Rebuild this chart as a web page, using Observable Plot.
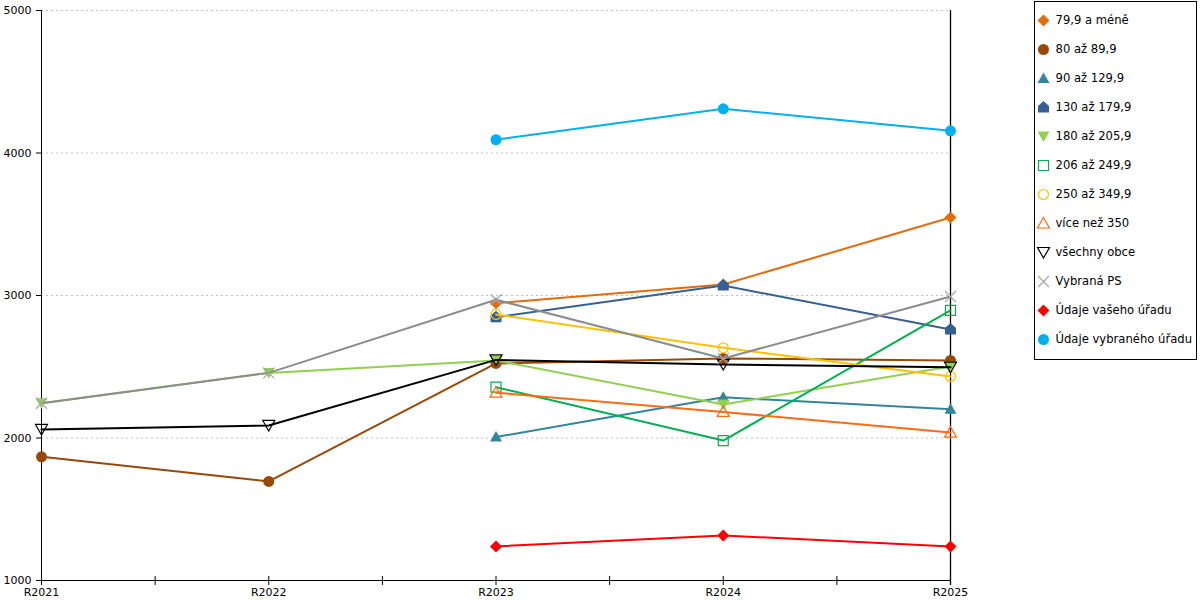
<!DOCTYPE html>
<html><head><meta charset="utf-8">
<script src="https://cdn.jsdelivr.net/npm/d3@7"></script>
<script src="https://cdn.jsdelivr.net/npm/@observablehq/plot@0.6"></script>
<style>
body{margin:0;background:#fff;font-family:"DejaVu Sans",Verdana,sans-serif;}
#wrap{position:relative;width:1200px;height:600px;overflow:hidden;}
#legend{position:absolute;left:1034px;top:1px;width:163px;height:359px;border:1px solid #000;box-sizing:border-box;background:#fff;}
#legend svg,#chart svg{display:block;}
svg text{font-family:"DejaVu Sans",Verdana,sans-serif;}
</style></head><body>
<div id="wrap"><div id="chart"></div><div id="legend"></div></div>
<script>
// ---- data ----
const years = ["R2021", "R2022", "R2023", "R2024", "R2025"];
const seriesNames = ["79,9 a méně", "80 až 89,9", "90 až 129,9", "130 až 179,9", "180 až 205,9",
  "206 až 249,9", "250 až 349,9", "více než 350", "všechny obce", "Vybraná PS",
  "Údaje vašeho úřadu", "Údaje vybraného úřadu"];
const v79   = [null, null, 2946, 3077, 3547];
const v80   = [1868, 1695, 2523, 2558, 2544];
const v90   = [null, null, 2007, 2286, 2202];
const v130  = [null, null, 2848, 3070, 2761];
const v180  = [2244, 2457, 2544, 2235, 2502];
const v206  = [null, null, 2357, 1982, 2895];
const v250  = [null, null, 2867, 2633, 2432];
const v350  = [null, null, 2318, 2183, 2038];
const vAll  = [2060, 2088, 2548, 2516, 2497];
const vPS   = [2244, 2457, 2970, 2558, 2993];
const vYour = [null, null, 1239, 1316, 1239];
const vSel  = [null, null, 4093, 4310, 4156];
const yTicks = [1000, 2000, 3000, 4000, 5000];

const seriesValues = [v79, v80, v90, v130, v180, v206, v250, v350, vAll, vPS, vYour, vSel];
const rows = seriesNames.flatMap((s, k) =>
  seriesValues[k].map((v, i) => ({series: s, i, value: v})).filter(d => d.value != null));

// ---- styles ----
const sym = pts => ({draw(ctx) {
  ctx.moveTo(pts[0][0], pts[0][1]);
  for (const p of pts.slice(1)) ctx.lineTo(p[0], p[1]);
  ctx.closePath();
}});
const diamond = sym([[0, -6], [6, 0], [0, 6], [-6, 0]]);
const triUp = sym([[0, -6], [6, 4.5], [-6, 4.5]]);
const triDown = sym([[0, 5.5], [6, -5], [-6, -5]]);
const house = sym([[0, -6.5], [5.5, -1.5], [5.5, 5], [-5.5, 5], [-5.5, -1.5]]);
const square = sym([[-5, -5], [5, -5], [5, 5], [-5, 5]]);
const circ = r => ({draw(ctx) { ctx.moveTo(r, 0); ctx.arc(0, 0, r, 0, 2 * Math.PI); }});
const xmark = {draw(ctx) { ctx.moveTo(-5.5, -5.5); ctx.lineTo(5.5, 5.5); ctx.moveTo(5.5, -5.5); ctx.lineTo(-5.5, 5.5); }};

const lineColors = ["#e46c0a", "#984807", "#31859c", "#376092", "#92d050", "#00b050",
  "#ffc000", "#ff6a13", "#000000", "#8c8c8c", "#ff0000", "#00b0f0"];
const symbols = [diamond, circ(5.5), triUp, house, triDown, square, circ(5), triUp, triDown, xmark, diamond, circ(5.5)];
const filled = [true, true, true, true, true, false, false, false, false, false, true, true];
const markColors = lineColors.map((c, k) => k === 9 ? "#a6a6a6" : c);

function dotOpts(k, extra) {
  return Object.assign({
    symbol: symbols[k],
    fill: filled[k] ? markColors[k] : "none",
    stroke: filled[k] ? "none" : markColors[k],
    strokeWidth: filled[k] ? 0 : 1.2
  }, extra);
}

const font = {fontFamily: "DejaVu Sans, Verdana, sans-serif", fontSize: "11px", color: "#000", background: "#fff", overflow: "visible"};
const tickPos = d3.range(0, years.length - 0.99, 0.5);

const chart = Plot.plot({
  width: 1200, height: 600,
  marginLeft: 41, marginRight: 250, marginTop: 10, marginBottom: 20,
  style: font,
  x: {domain: [0, years.length - 1], label: null},
  y: {domain: [yTicks[0], yTicks[yTicks.length - 1]], label: null},
  marks: [
    Plot.gridY(yTicks.slice(1), {stroke: "#bfbfbf", strokeOpacity: 1, strokeDasharray: "2,3"}),
    Plot.ruleX([0], {stroke: "#000", strokeWidth: 1}),
    Plot.ruleX([years.length - 1], {stroke: "#000", strokeWidth: 1.3, insetBottom: -5}),
    Plot.ruleY([yTicks[0]], {stroke: "#000", strokeWidth: 1}),
    Plot.ruleX(tickPos, {y1: yTicks[0], y2: yTicks[0], stroke: "#000", insetTop: -4, insetBottom: -5}),
    Plot.axisY({ticks: yTicks, tickSize: 5, tickPadding: 5, stroke: "#000", fontSize: 11, label: null, tickFormat: d => String(d)}),
    Plot.axisX({ticks: d3.range(years.length), tickSize: 0, tickPadding: 8, fontSize: 11, label: null, tickFormat: i => years[i]}),
    ...seriesNames.flatMap((s, k) => {
      const d = rows.filter(r => r.series === s);
      return [
        Plot.line(d, {x: "i", y: "value", stroke: lineColors[k], strokeWidth: 2}),
        Plot.dot(d, dotOpts(k, {x: "i", y: "value"}))
      ];
    })
  ]
});
document.getElementById("chart").append(chart);

const legend = Plot.plot({
  width: 161, height: 357, margin: 0,
  style: font,
  x: {domain: [0, 1], range: [8, 161], axis: null},
  y: {type: "point", domain: seriesNames, range: [18, 337], padding: 0, axis: null},
  marks: [
    ...seriesNames.map((s, k) => Plot.dot([s], dotOpts(k, {x: () => 0, y: d => d}))),
    Plot.text(seriesNames, {x: () => 0, y: d => d, text: d => d, dx: 12, textAnchor: "start", fontSize: 11.6, fill: "#000"})
  ]
});
document.getElementById("legend").append(legend);
</script>
</body></html>
